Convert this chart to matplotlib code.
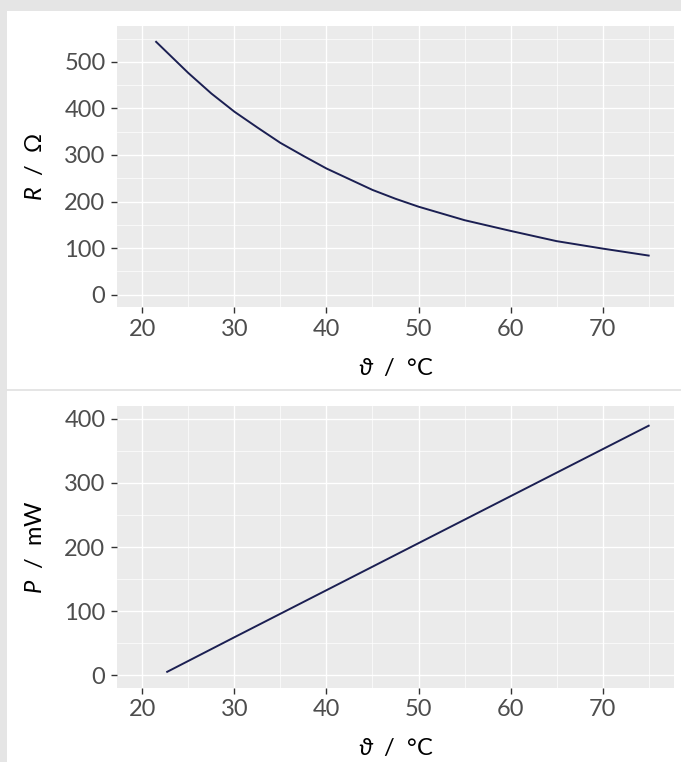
import numpy as np
import matplotlib
matplotlib.use("Agg")
import matplotlib.pyplot as plt
from matplotlib.patches import Rectangle
from matplotlib.lines import Line2D
from matplotlib.ticker import MultipleLocator

# values
theta_R = [21.5, 25, 27.5, 30, 32.5, 35, 37.5, 40, 45, 47.5, 50, 55, 60, 65, 70, 75]
R = [543, 476, 432, 393, 359, 326, 298, 271, 225, 206, 189, 160, 137, 115, 99, 84]

theta_P = [22.7, 30, 50, 75]
P = [5, 59, 206, 389.5]

x_ticks = [20, 30, 40, 50, 60, 70]
R_ticks = [0, 100, 200, 300, 400, 500]
P_ticks = [0, 100, 200, 300, 400]

plt.rcParams['font.family'] = ['Lato', 'DejaVu Sans']
plt.rcParams['mathtext.fontset'] = 'custom'
plt.rcParams['mathtext.rm'] = 'Lato'
plt.rcParams['mathtext.it'] = 'Lato:italic'
plt.rcParams['mathtext.sf'] = 'Lato'
plt.rcParams['mathtext.fallback'] = 'cm'

W, H = 681, 762
fig = plt.figure(figsize=(W / 100, H / 100), dpi=100)
fig.patch.set_facecolor('#e5e5e5')
# white page area, cropped screenshot look
fig.patches.append(Rectangle((7 / W, 0), 1 - 7 / W, 1 - 11 / H, transform=fig.transFigure,
                             facecolor='white', edgecolor='none', zorder=-5))
fig.lines.append(Line2D([7 / W, 1], [1 - 390 / H, 1 - 390 / H], transform=fig.transFigure,
                        color='#e3e3e3', lw=1.3, zorder=-4))

line_col = '#1b1f52'
txt_col = '#4d4d4d'


def style(ax, ylim, yticks, ylabel):
    ax.set_facecolor('#ebebeb')
    for s in ax.spines.values():
        s.set_visible(False)
    ax.set_xlim(17.25, 77.75)
    ax.set_ylim(*ylim)
    ax.set_xticks(x_ticks)
    ax.set_yticks(yticks)
    ax.xaxis.set_minor_locator(MultipleLocator(5))
    ax.yaxis.set_minor_locator(MultipleLocator(50))
    ax.grid(which='major', color='white', lw=1.0)
    ax.grid(which='minor', color='white', lw=0.5)
    ax.set_axisbelow(True)
    ax.tick_params(which='major', length=4.3, width=1.0, color='#333333',
                   labelcolor=txt_col, labelsize=17, pad=4)
    ax.tick_params(which='minor', length=0)
    ax.set_xlabel(r'$\vartheta$  /  °C', fontsize=17, color='black')
    ax.set_ylabel(ylabel, fontsize=17, color='black')
    ax.xaxis.set_label_coords(0.5, -60 / 281.3)
    ax.xaxis.label.set_va('center')
    ax.yaxis.set_label_coords((35 - 117) / 557, 0.5)
    ax.yaxis.label.set_va('center')


ax1 = fig.add_axes([117 / W, 1 - 307.5 / H, 557 / W, 281.5 / H])
ax1.plot(theta_R, R, color=line_col, lw=1.4)
style(ax1, (-27.5, 577), R_ticks, r'$R$  /  Ω')

ax2 = fig.add_axes([117 / W, 1 - 687.5 / H, 557 / W, 281.5 / H])
ax2.plot(theta_P, P, color=line_col, lw=1.4)
style(ax2, (-19.5, 420.3), P_ticks, r'$P$  /  mW')

fig.savefig('out.png', dpi=100, facecolor=fig.get_facecolor())
